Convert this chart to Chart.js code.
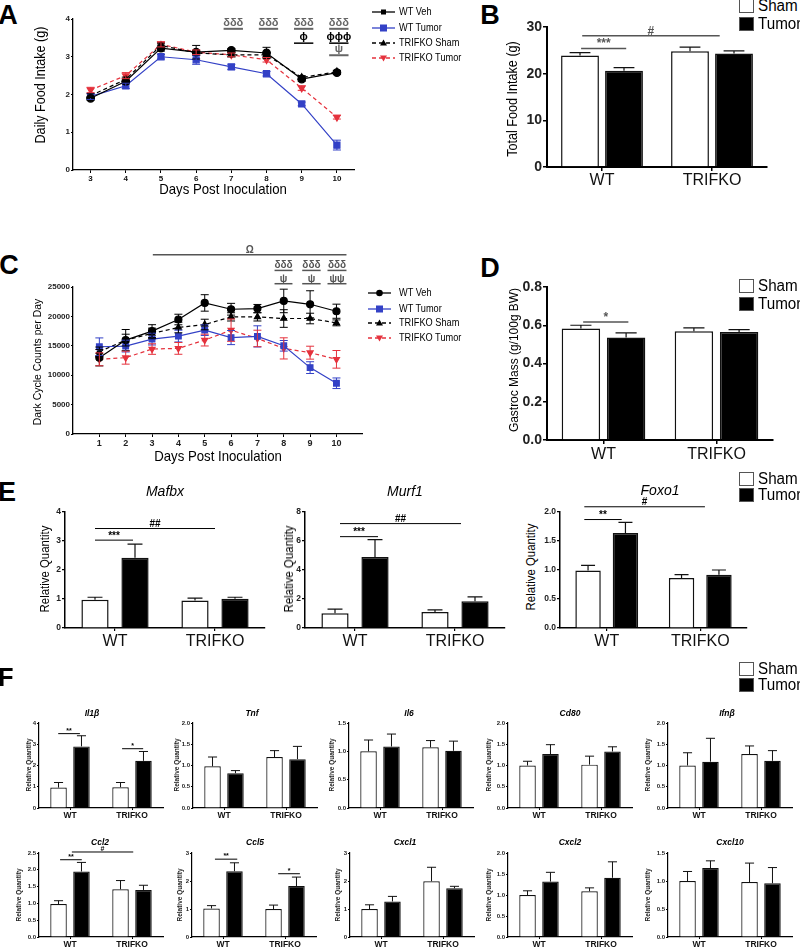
<!DOCTYPE html>
<html><head><meta charset="utf-8">
<script src="https://cdn.jsdelivr.net/npm/chart.js@4.4.1/dist/chart.umd.min.js"></script>
<style>
html,body{margin:0;padding:0;background:#fff;}
body{width:800px;height:949px;position:relative;overflow:hidden;font-family:"Liberation Sans",Arial,sans-serif;color:#000;}
.abs{position:absolute;white-space:nowrap;line-height:1;}
.box{position:absolute;box-sizing:border-box;}
</style></head><body>
<script>
// ================= DATA =================
const groups = ['WT', 'TRIFKO'];
// Panel A: daily food intake
const daysA = ['3', '4', '5', '6', '7', '8', '9', '10'];
const wtVehA = [1.90, 2.35, 3.23, 3.12, 3.17, 3.10, 2.41, 2.58];
const wtVehAErr = [0.05, 0.07, 0.08, 0.18, 0.05, 0.15, 0.06, 0.05];
const wtTumA = [1.95, 2.23, 3.00, 2.92, 2.73, 2.55, 1.75, 0.66];
const wtTumAErr = [0.08, 0.07, 0.06, 0.12, 0.07, 0.06, 0.05, 0.13];
const koShamA = [1.97, 2.40, 3.30, 3.10, 3.05, 3.05, 2.45, 2.60];
const koShamAErr = [0.05, 0.06, 0.06, 0.05, 0.05, 0.06, 0.05, 0.04];
const koTumA = [2.12, 2.50, 3.33, 3.12, 3.05, 2.92, 2.17, 1.40];
const koTumAErr = [0.07, 0.08, 0.07, 0.06, 0.05, 0.06, 0.06, 0.05];
const ticksA = [0, 1, 2, 3, 4];
// Panel B: total food intake
const totalSham = [23.9, 24.8];
const totalShamErr = [0.6, 0.9];
const totalTumor = [20.6, 24.3];
const totalTumorErr = [0.7, 0.6];
const ticksB = [0, 10, 20, 30];
// Panel C: dark cycle counts
const daysC = [1, 2, 3, 4, 5, 6, 7, 8, 9, 10];
const wtVehC = [12980, 15970, 17490, 19470, 22290, 21220, 21330, 22630, 22060, 20880];
const wtVehCErr = [1400, 1800, 1100, 900, 1400, 1000, 700, 2000, 2300, 1200];
const wtTumC = [14840, 14950, 16140, 16650, 17660, 16400, 16600, 15000, 11290, 8630];
const wtTumCErr = [1500, 1000, 1000, 1000, 900, 1200, 1800, 900, 1000, 900];
const koShamC = [13990, 15970, 17100, 18110, 18620, 19920, 19920, 19640, 19640, 18900];
const koShamCErr = [800, 1000, 900, 900, 900, 700, 700, 1500, 900, 500];
const koTumC = [12700, 12980, 14450, 14560, 15970, 17660, 16250, 14560, 13830, 12700];
const koTumCErr = [1100, 1100, 900, 1000, 1000, 1900, 1400, 1800, 1100, 1500];
const ticksC = [0, 5000, 10000, 15000, 20000, 25000];
// Panel D: gastrocnemius mass
const gastroSham = [0.583, 0.569];
const gastroShamErr = [0.017, 0.017];
const gastroTumor = [0.536, 0.565];
const gastroTumorErr = [0.024, 0.012];
const ticksD = [0, 0.2, 0.4, 0.6, 0.8];
// Panel E
const mafbxSham = [0.97, 0.95], mafbxShamErr = [0.09, 0.08];
const mafbxTumor = [2.42, 1.01], mafbxTumorErr = [0.47, 0.05];
const ticksMafbx = [0, 1, 2, 3, 4];
const murf1Sham = [1.02, 1.10], murf1ShamErr = [0.28, 0.15];
const murf1Tumor = [4.89, 1.85], murf1TumorErr = [1.20, 0.30];
const ticksMurf1 = [0, 2, 4, 6, 8];
const foxo1Sham = [0.99, 0.86], foxo1ShamErr = [0.09, 0.06];
const foxo1Tumor = [1.64, 0.92], foxo1TumorErr = [0.18, 0.08];
const ticksFoxo1 = [0, 0.5, 1.0, 1.5, 2.0];
// Panel F
const il1bSham = [0.96, 0.98], il1bShamErr = [0.24, 0.22];
const il1bTumor = [2.90, 2.22], il1bTumorErr = [0.50, 0.44];
const ticksIl1b = [0, 1, 2, 3, 4];
const tnfSham = [0.98, 1.20], tnfShamErr = [0.22, 0.15];
const tnfTumor = [0.82, 1.15], tnfTumorErr = [0.06, 0.30];
const ticksTnf = [0, 0.5, 1.0, 1.5, 2.0];
const il6Sham = [1.00, 1.07], il6ShamErr = [0.20, 0.12];
const il6Tumor = [1.085, 1.01], il6TumorErr = [0.22, 0.17];
const ticksIl6 = [0, 0.5, 1.0, 1.5];
const cd80Sham = [1.00, 1.02], cd80ShamErr = [0.10, 0.20];
const cd80Tumor = [1.27, 1.33], cd80TumorErr = [0.22, 0.11];
const ticksCd80 = [0, 0.5, 1.0, 1.5, 2.0];
const ifnbSham = [1.00, 1.27], ifnbShamErr = [0.30, 0.19];
const ifnbTumor = [1.09, 1.11], ifnbTumorErr = [0.55, 0.24];
const ticksIfnb = [0, 0.5, 1.0, 1.5, 2.0];
const ccl2Sham = [0.98, 1.42], ccl2ShamErr = [0.10, 0.26];
const ccl2Tumor = [1.95, 1.40], ccl2TumorErr = [0.27, 0.14];
const ticksCcl2 = [0, 0.5, 1.0, 1.5, 2.0, 2.5];
const ccl5Sham = [1.02, 1.00], ccl5ShamErr = [0.10, 0.14];
const ccl5Tumor = [2.35, 1.82], ccl5TumorErr = [0.30, 0.32];
const ticksCcl5 = [0, 1, 2, 3];
const cxcl1Sham = [1.00, 1.99], cxcl1ShamErr = [0.15, 0.50];
const cxcl1Tumor = [1.27, 1.74], cxcl1TumorErr = [0.18, 0.07];
const ticksCxcl1 = [0, 1, 2, 3];
const cxcl2Sham = [1.00, 1.09], cxcl2ShamErr = [0.10, 0.08];
const cxcl2Tumor = [1.32, 1.41], cxcl2TumorErr = [0.22, 0.38];
const ticksCxcl2 = [0, 0.5, 1.0, 1.5, 2.0];
const cxcl10Sham = [1.00, 0.98], cxcl10ShamErr = [0.17, 0.34];
const cxcl10Tumor = [1.23, 0.96], cxcl10TumorErr = [0.13, 0.28];
const ticksCxcl10 = [0, 0.5, 1.0, 1.5];
// Significance annotations (x in category / day units, y in data units)
const sigA = [
  {x1: 3.78, x2: 4.33, y: 3.74, t: 'δδδ', c: '#666', lw: 2},
  {x1: 4.78, x2: 5.33, y: 3.74, t: 'δδδ', c: '#666', lw: 2},
  {x1: 5.78, x2: 6.33, y: 3.74, t: 'δδδ', c: '#666', lw: 2},
  {x1: 6.78, x2: 7.33, y: 3.74, t: 'δδδ', c: '#666', lw: 2},
  {x1: 5.78, x2: 6.33, y: 3.36, t: 'ϕ', c: '#000', lw: 1.5},
  {x1: 6.78, x2: 7.33, y: 3.36, t: 'ϕϕϕ', c: '#000', lw: 1.5},
  {x1: 6.78, x2: 7.33, y: 3.04, t: 'ψ', c: '#666', lw: 2}
];
const sigB = [{x1: -0.19, x2: 0.22, y: 25.4, t: '***'}, {x1: -0.18, x2: 1.07, y: 28.1, t: '#'}];
const sigC = [
  {x1: 3.03, x2: 10.38, y: 30470, t: 'Ω'},
  {x1: 7.65, x2: 8.33, y: 27820, t: 'δδδ'}, {x1: 7.65, x2: 8.33, y: 25560, t: 'ψ'},
  {x1: 8.70, x2: 9.40, y: 27820, t: 'δδδ'}, {x1: 8.70, x2: 9.40, y: 25560, t: 'ψ'},
  {x1: 9.66, x2: 10.38, y: 27820, t: 'δδδ'}, {x1: 9.66, x2: 10.38, y: 25560, t: 'ψψ'}
];
const sigD = [{x1: -0.18, x2: 0.22, y: 0.617, t: '*'}];
const sigMafbx = [{x1: -0.2, x2: 0.18, y: 3.03, t: '***'}, {x1: -0.2, x2: 1.0, y: 3.43, t: '##'}];
const sigMurf1 = [{x1: -0.15, x2: 0.23, y: 6.3, t: '***'}, {x1: -0.15, x2: 1.06, y: 7.2, t: '##'}];
const sigFoxo1 = [{x1: -0.24, x2: 0.16, y: 1.87, t: '**'}, {x1: -0.24, x2: 1.05, y: 2.09, t: '#'}];
const sigIl1b = [{x1: -0.19, x2: 0.16, y: 3.5, t: '**'}, {x1: 0.84, x2: 1.18, y: 2.79, t: '*'}];
const sigCcl2 = [{x1: -0.16, x2: 0.19, y: 2.3, t: '**'}, {x1: 0.03, x2: 1.02, y: 2.53, t: '#'}];
const sigCcl5 = [{x1: -0.13, x2: 0.23, y: 2.78, t: '**'}, {x1: 0.89, x2: 1.24, y: 2.26, t: '*'}];

// ================= HELPERS =================
const FONT = '"Liberation Sans", Arial, sans-serif';
Chart.defaults.font.family = FONT;
Chart.defaults.color = '#111';

const errPlugin = {
  id: 'errbars',
  afterDatasetsDraw(chart, args, opts) {
    const ctx = chart.ctx;
    chart.data.datasets.forEach((ds, di) => {
      if (!ds.err) return;
      const meta = chart.getDatasetMeta(di);
      const ys = chart.scales[meta.yAxisID];
      ctx.save();
      ctx.strokeStyle = ds.errColor || ds.borderColor;
      ctx.lineWidth = ds.errWidth || 1;
      meta.data.forEach((el, i) => {
        const v = ds.vals[i], e = ds.err[i];
        const x = el.x;
        const yTop = ys.getPixelForValue(v + e);
        const yBot = opts.both ? ys.getPixelForValue(v - e) : ys.getPixelForValue(v);
        const cap = opts.capFrac ? el.width * opts.capFrac / 2 : (opts.cap || 4);
        ctx.beginPath();
        ctx.moveTo(x, yBot); ctx.lineTo(x, yTop);
        ctx.moveTo(x - cap, yTop); ctx.lineTo(x + cap, yTop);
        if (opts.both) { ctx.moveTo(x - cap, yBot); ctx.lineTo(x + cap, yBot); }
        ctx.stroke();
      });
      ctx.restore();
    });
  }
};
const sigPlugin = {
  id: 'sig',
  afterDraw(chart, args, opts) {
    if (!opts.items || !opts.items.length) return;
    const xs = chart.scales.x, ys = chart.scales.y, ctx = chart.ctx;
    opts.items.forEach(it => {
      const x1 = xs.getPixelForValue(it.x1), x2 = xs.getPixelForValue(it.x2);
      const y = ys.getPixelForValue(it.y);
      ctx.save();
      ctx.strokeStyle = it.c || opts.color || '#000';
      ctx.lineWidth = it.lw || opts.lw || 1;
      ctx.beginPath(); ctx.moveTo(x1, y); ctx.lineTo(x2, y); ctx.stroke();
      ctx.fillStyle = it.c || opts.color || '#000';
      ctx.font = 'bold ' + (opts.fs || 10) + 'px ' + FONT;
      ctx.textAlign = 'center'; ctx.textBaseline = 'alphabetic';
      ctx.fillText(it.t, (x1 + x2) / 2, y - (opts.gap != null ? opts.gap : 2));
      ctx.restore();
    });
  }
};
Chart.register(errPlugin, sigPlugin);

function txt(s, x, y, o = {}) {
  const d = document.createElement('div');
  d.className = 'abs'; d.textContent = s;
  d.style.left = x + 'px'; d.style.top = y + 'px';
  d.style.fontSize = (o.fs || 12) + 'px';
  if (o.fw) d.style.fontWeight = o.fw;
  if (o.it) d.style.fontStyle = 'italic';
  if (o.col) d.style.color = o.col;
  let tr = o.left ? 'translate(0,-50%)' : 'translate(-50%,-50%)';
  if (o.rot) tr += ' rotate(-90deg)';
  if (o.sx) tr += ' scaleX(' + o.sx + ')';
  if (o.left) d.style.transformOrigin = '0 50%';
  d.style.transform = tr;
  document.body.appendChild(d);
}
function legendBoxes(x, y1, y2) {
  [[y1, '#fff', 'Sham'], [y2, '#000', 'Tumor']].forEach(([y, bg, s]) => {
    const b = document.createElement('div');
    b.className = 'box';
    b.style.cssText += `left:${x}px;top:${y - 7}px;width:15px;height:14px;background:${bg};border:1px solid #555;`;
    document.body.appendChild(b);
    txt(s, x + 19, y, {fs: 16, left: true, sx: 0.95});
  });
}
function makeChart(g, config) {
  const w = g.yW + (g.axR - g.axL) + g.padR;
  const h = g.padT + (g.axB - g.axT) + g.xH;
  const cv = document.createElement('canvas');
  cv.width = w; cv.height = h;
  cv.style.cssText = `position:absolute;left:${g.axL - g.yW}px;top:${g.axT - g.padT}px;width:${w}px;height:${h}px;`;
  document.body.appendChild(cv);
  config.options.responsive = false;
  config.options.animation = false;
  config.options.events = [];
  config.options.devicePixelRatio = 1;
  config.options.layout = {padding: {top: g.padT, right: g.padR, left: 0, bottom: 0}};
  config.options.scales.y.afterFit = s => { s.width = g.yW; };
  config.options.scales.x.afterFit = s => { s.height = g.xH; };
  return new Chart(cv, config);
}
function yScale(ticks, dec, o) {
  return {
    type: 'linear', min: ticks[0], max: ticks[ticks.length - 1],
    afterBuildTicks: s => { s.ticks = ticks.map(v => ({value: v})); },
    ticks: {callback: v => Number(v).toFixed(dec), font: {size: o.yFs, weight: 'bold'}, color: '#222', padding: o.yPad != null ? o.yPad : 1},
    grid: {display: true, drawOnChartArea: false, drawTicks: true, tickLength: o.yTl || 3, color: '#000', lineWidth: o.tw || 1},
    border: {display: true, color: '#000', width: o.aw || 1.5}
  };
}
function xCat(o) {
  return {
    type: 'category', offset: true,
    ticks: {font: {size: o.xFs, weight: o.xW || 'normal'}, color: '#111', padding: o.xPad != null ? o.xPad : 1, maxRotation: 0, autoSkip: false},
    grid: {display: true, drawOnChartArea: false, offset: false, tickLength: o.xTl || 3, color: '#000', lineWidth: o.tw || 1},
    border: {display: true, color: '#000', width: o.aw || 1.5}
  };
}
function barChart(g, sham, shamErr, tumor, tumorErr, ticks, dec, sig, o) {
  const common = {borderColor: '#111', borderWidth: o.bw, barPercentage: o.bp, categoryPercentage: o.cp, errColor: '#111', errWidth: o.ew || 1.2};
  return makeChart(g, {
    type: 'bar',
    data: {labels: groups, datasets: [
      Object.assign({label: 'Sham', data: sham, vals: sham, err: shamErr, backgroundColor: '#fff'}, common),
      Object.assign({label: 'Tumor', data: tumor, vals: tumor, err: tumorErr, backgroundColor: '#000'}, common)
    ]},
    options: {
      plugins: {legend: {display: false}, tooltip: {enabled: false},
        errbars: {capFrac: o.capFrac || 0.55},
        sig: {items: sig, fs: o.sfs, gap: o.sgap, lw: o.slw || 1, color: o.scol || '#000'}},
      scales: {x: xCat(o), y: yScale(ticks, dec, o)}
    }
  });
}

// ================= PANEL A =================
const BLUE = '#3341c6', RED = '#e5323d';
function lineSets(d1, e1, d2, e2, d3, e3, d4, e4, xs, ptR) {
  const mk = (d) => xs ? d.map((v, i) => ({x: xs[i], y: v})) : d;
  return [
    {label: 'WT Veh', data: mk(d1), vals: d1, err: e1, borderColor: '#000', backgroundColor: '#000', pointStyle: 'circle', pointRadius: ptR, borderWidth: 1.2},
    {label: 'WT Tumor', data: mk(d2), vals: d2, err: e2, borderColor: BLUE, backgroundColor: BLUE, pointStyle: 'rect', pointRadius: ptR + 0.5, borderWidth: 1.2},
    {label: 'TRIFKO Sham', data: mk(d3), vals: d3, err: e3, borderColor: '#000', backgroundColor: '#000', pointStyle: 'triangle', pointRadius: ptR, borderWidth: 1.2, borderDash: [4, 3]},
    {label: 'TRIFKO Tumor', data: mk(d4), vals: d4, err: e4, borderColor: RED, backgroundColor: RED, pointStyle: 'triangle', pointRotation: 180, pointRadius: ptR, borderWidth: 1.2, borderDash: [4, 3]}
  ];
}
makeChart({axL: 73, axT: 19, axR: 355, axB: 170, yW: 30, padT: 10, xH: 15, padR: 5}, {
  type: 'line',
  data: {labels: daysA, datasets: lineSets(wtVehA, wtVehAErr, wtTumA, wtTumAErr, koShamA, koShamAErr, koTumA, koTumAErr, null, 3.8)},
  options: {
    plugins: {legend: {display: false}, tooltip: {enabled: false}, errbars: {both: true, cap: 4}, sig: {items: sigA, fs: 11, gap: 3}},
    scales: {x: xCat({xFs: 8, xW: 'bold', xTl: 3, xPad: 1, aw: 1.3}), y: yScale(ticksA, 0, {yFs: 8, yTl: 2, yPad: 1, aw: 1.3})}
  }
});

// ================= PANEL B =================
barChart({axL: 547, axT: 27, axR: 767, axB: 167, yW: 32, padT: 10, xH: 24, padR: 5},
  totalSham, totalShamErr, totalTumor, totalTumorErr, ticksB, 0, sigB,
  {bw: 1.5, bp: 0.86, cp: 0.8, yFs: 14, yTl: 4, yPad: 1, xFs: 16, xTl: 4, xPad: 0, aw: 2, tw: 1.5, sfs: 12, sgap: 1, slw: 1.5, scol: '#555', capFrac: 0.55});

// ================= PANEL C =================
makeChart({axL: 73, axT: 287, axR: 363, axB: 434, yW: 33, padT: 50, xH: 14, padR: 5}, {
  type: 'line',
  data: {datasets: lineSets(wtVehC, wtVehCErr, wtTumC, wtTumCErr, koShamC, koShamCErr, koTumC, koTumCErr, daysC, 3.5)},
  options: {
    plugins: {legend: {display: false}, tooltip: {enabled: false}, errbars: {both: true, cap: 4}, sig: {items: sigC, fs: 10, gap: 2, lw: 1.5, color: '#555'}},
    scales: {
      x: {type: 'linear', min: 0, max: 11,
        afterBuildTicks: s => { s.ticks = daysC.map(v => ({value: v})); },
        ticks: {callback: v => String(v), font: {size: 9, weight: 'bold'}, color: '#222', padding: 1, maxRotation: 0},
        grid: {display: true, drawOnChartArea: false, tickLength: 3, color: '#000', lineWidth: 1},
        border: {display: true, color: '#000', width: 1.3}},
      y: yScale(ticksC, 0, {yFs: 8, yTl: 2, yPad: 1, aw: 1.3})
    }
  }
});

// ================= PANEL D =================
barChart({axL: 547, axT: 287, axR: 773, axB: 440, yW: 34, padT: 10, xH: 24, padR: 5},
  gastroSham, gastroShamErr, gastroTumor, gastroTumorErr, ticksD, 1, sigD,
  {bw: 1.5, bp: 0.85, cp: 0.8, yFs: 14, yTl: 4, yPad: 1, xFs: 16, xTl: 4, xPad: 1, aw: 2, tw: 1.5, sfs: 12, sgap: 1, slw: 1.5, scol: '#555', capFrac: 0.55});

// ================= PANEL E =================
const eOpt = {bw: 1.5, bp: 0.68, cp: 0.8, yFs: 8.5, yTl: 3, yPad: 1, xFs: 16, xTl: 3, xPad: 1, aw: 1.5, tw: 1.2, sfs: 10, sgap: 1.5, slw: 1, capFrac: 0.55};
barChart({axL: 65, axT: 512, axR: 265, axB: 628, yW: 16, padT: 8, xH: 24, padR: 5},
  mafbxSham, mafbxShamErr, mafbxTumor, mafbxTumorErr, ticksMafbx, 0, sigMafbx, eOpt);
barChart({axL: 305, axT: 512, axR: 505, axB: 628, yW: 12, padT: 8, xH: 24, padR: 5},
  murf1Sham, murf1ShamErr, murf1Tumor, murf1TumorErr, ticksMurf1, 0, sigMurf1, eOpt);
barChart({axL: 560, axT: 512, axR: 747, axB: 628, yW: 22, padT: 30, xH: 24, padR: 5},
  foxo1Sham, foxo1ShamErr, foxo1Tumor, foxo1TumorErr, ticksFoxo1, 1, sigFoxo1, eOpt);

// ================= PANEL F =================
const fOpt = {bw: 1.2, bp: 0.72, cp: 0.74, yFs: 6, yTl: 2, yPad: 1, xFs: 8.5, xW: 'bold', xTl: 2, xPad: 1, aw: 1.2, tw: 1, sfs: 7, sgap: 1, slw: 1, capFrac: 0.55, ew: 1};
const fCharts = [
  ['Il1β', il1bSham, il1bShamErr, il1bTumor, il1bTumorErr, ticksIl1b, 0, sigIl1b, 39, 0, 29, 92],
  ['Tnf', tnfSham, tnfShamErr, tnfTumor, tnfTumorErr, ticksTnf, 1, [], 193, 0, 177, 252],
  ['Il6', il6Sham, il6ShamErr, il6Tumor, il6TumorErr, ticksIl6, 1, [], 349, 0, 332, 409],
  ['Cd80', cd80Sham, cd80ShamErr, cd80Tumor, cd80TumorErr, ticksCd80, 1, [], 508, 0, 489, 570],
  ['Ifnβ', ifnbSham, ifnbShamErr, ifnbTumor, ifnbTumorErr, ticksIfnb, 1, [], 668, 0, 648, 727],
  ['Ccl2', ccl2Sham, ccl2ShamErr, ccl2Tumor, ccl2TumorErr, ticksCcl2, 1, sigCcl2, 39, 1, 19, 100],
  ['Ccl5', ccl5Sham, ccl5ShamErr, ccl5Tumor, ccl5TumorErr, ticksCcl5, 0, sigCcl5, 192, 1, 180, 255],
  ['Cxcl1', cxcl1Sham, cxcl1ShamErr, cxcl1Tumor, cxcl1TumorErr, ticksCxcl1, 0, [], 350, 1, 338, 405],
  ['Cxcl2', cxcl2Sham, cxcl2ShamErr, cxcl2Tumor, cxcl2TumorErr, ticksCxcl2, 1, [], 508, 1, 489, 570],
  ['Cxcl10', cxcl10Sham, cxcl10ShamErr, cxcl10Tumor, cxcl10TumorErr, ticksCxcl10, 1, [], 668, 1, 648, 730]
];
const rowT = [723, 853], rowB = [808, 937], rowTitle = [713, 842], rowYT = [765, 895];
fCharts.forEach(([title, s, se, t, te, tk, dec, sig, axL, row, ytx, tx]) => {
  const yW = dec ? 16 : 10;
  barChart({axL: axL, axT: rowT[row], axR: axL + 124, axB: rowB[row], yW: yW, padT: 8, xH: 12, padR: 4},
    s, se, t, te, tk, dec, sig, fOpt);
  txt(title, tx, rowTitle[row], {fs: 8.5, fw: 'bold', it: true});
  txt('Relative Quantity', ytx, rowYT[row], {fs: 6.5, fw: 'bold', rot: true, col: '#222'});
});

// ================= TEXT, LEGENDS =================
txt('A', 8, 15, {fs: 27, fw: 'bold'});
txt('B', 490, 15, {fs: 27, fw: 'bold'});
txt('C', 9, 265, {fs: 27, fw: 'bold'});
txt('D', 490, 268, {fs: 27, fw: 'bold'});
txt('E', 7, 492, {fs: 27, fw: 'bold'});
txt('F', 6, 677, {fs: 25, fw: 'bold'});

txt('Daily Food Intake (g)', 40, 85, {fs: 14, rot: true, sx: 0.9});
txt('Days Post Inoculation', 223, 188, {fs: 15, sx: 0.88});
txt('Total Food Intake (g)', 512, 99, {fs: 14, rot: true, sx: 0.9});
txt('Dark Cycle Counts per Day', 37, 362, {fs: 11, rot: true, sx: 0.95});
txt('Days Post Inoculation', 218, 455, {fs: 15, sx: 0.88});
txt('Gastroc Mass (g/100g BW)', 513, 360, {fs: 13, rot: true, sx: 0.92});
txt('Relative Quantity', 45, 569, {fs: 12, rot: true, sx: 0.95});
txt('Relative Quantity', 289, 569, {fs: 12, rot: true, sx: 0.95});
txt('Relative Quantity', 531, 567, {fs: 12, rot: true, sx: 0.95});
txt('Mafbx', 165, 491, {fs: 14, it: true});
txt('Murf1', 405, 491, {fs: 14, it: true});
txt('Foxo1', 660, 490, {fs: 14, it: true});

legendBoxes(739, 5.5, 23.5);
legendBoxes(739, 285.5, 303.5);
legendBoxes(739, 479, 495);
legendBoxes(739, 669, 684.5);

function lineLegend(x1, x2, ys, squareFirst) {
  const names = ['WT Veh', 'WT Tumor', 'TRIFKO Sham', 'TRIFKO Tumor'];
  const cols = ['#000', BLUE, '#000', RED];
  const dash = ['', '', '4,3', '4,3'];
  const cx = (x1 + x2) / 2;
  let svg = `<svg xmlns="http://www.w3.org/2000/svg" width="800" height="949" style="position:absolute;left:0;top:0;pointer-events:none">`;
  ys.forEach((y, i) => {
    svg += `<line x1="${x1}" y1="${y}" x2="${x2}" y2="${y}" stroke="${cols[i]}" stroke-width="1.3" ${dash[i] ? `stroke-dasharray="${dash[i]}"` : ''}/>`;
    if (i === 0) svg += squareFirst ? `<rect x="${cx - 2.5}" y="${y - 2.5}" width="5" height="5" fill="#000"/>` : `<circle cx="${cx}" cy="${y}" r="3.3" fill="#000"/>`;
    if (i === 1) svg += `<rect x="${cx - 3.5}" y="${y - 3.5}" width="7" height="7" fill="${BLUE}"/>`;
    if (i === 2) svg += `<path d="M${cx} ${y - 3.5} L${cx + 3.5} ${y + 2.5} L${cx - 3.5} ${y + 2.5} Z" fill="#000"/>`;
    if (i === 3) svg += `<path d="M${cx} ${y + 3.5} L${cx + 3.5} ${y - 2.5} L${cx - 3.5} ${y - 2.5} Z" fill="${RED}"/>`;
    txt(names[i], 399, y, {fs: 10, left: true, sx: 0.92});
  });
  svg += '</svg>';
  const d = document.createElement('div');
  d.innerHTML = svg;
  document.body.appendChild(d.firstChild);
}
lineLegend(372, 395, [12, 28, 43, 58], true);
lineLegend(368, 391, [293, 309, 323, 338], false);
</script>
</body></html>
